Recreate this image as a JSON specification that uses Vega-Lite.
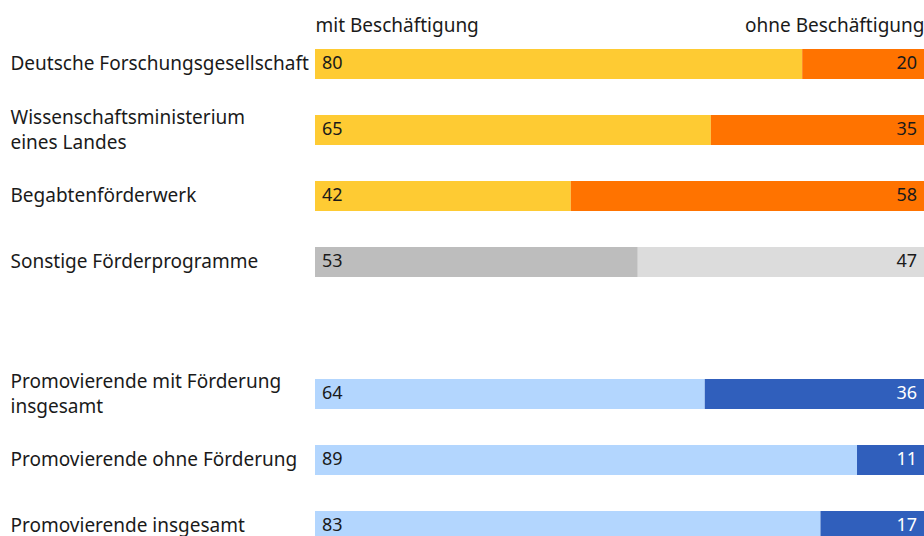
{
  "$schema": "https://vega.github.io/schema/vega-lite/v6.json",
  "width": 609,
  "height": 505,
  "autosize": {"type": "none"},
  "padding": {"left": 315, "top": 31, "right": 0, "bottom": 0},
  "background": "white",
  "config": {"view": {"stroke": null}, "font": "Noto Sans"},
  "data": {
    "values": [
      {"kategorie": "Deutsche Forschungsgesellschaft", "gruppe": "Förderer", "art": "mit", "reihe": "Förderer mit", "anteil": 80},
      {"kategorie": "Deutsche Forschungsgesellschaft", "gruppe": "Förderer", "art": "ohne", "reihe": "Förderer ohne", "anteil": 20},
      {"kategorie": "Wissenschaftsministerium eines Landes", "gruppe": "Förderer", "art": "mit", "reihe": "Förderer mit", "anteil": 65},
      {"kategorie": "Wissenschaftsministerium eines Landes", "gruppe": "Förderer", "art": "ohne", "reihe": "Förderer ohne", "anteil": 35},
      {"kategorie": "Begabtenförderwerk", "gruppe": "Förderer", "art": "mit", "reihe": "Förderer mit", "anteil": 42},
      {"kategorie": "Begabtenförderwerk", "gruppe": "Förderer", "art": "ohne", "reihe": "Förderer ohne", "anteil": 58},
      {"kategorie": "Sonstige Förderprogramme", "gruppe": "Sonstige", "art": "mit", "reihe": "Sonstige mit", "anteil": 53},
      {"kategorie": "Sonstige Förderprogramme", "gruppe": "Sonstige", "art": "ohne", "reihe": "Sonstige ohne", "anteil": 47},
      {"kategorie": "Promovierende mit Förderung insgesamt", "gruppe": "Gesamt", "art": "mit", "reihe": "Gesamt mit", "anteil": 64},
      {"kategorie": "Promovierende mit Förderung insgesamt", "gruppe": "Gesamt", "art": "ohne", "reihe": "Gesamt ohne", "anteil": 36},
      {"kategorie": "Promovierende ohne Förderung", "gruppe": "Gesamt", "art": "mit", "reihe": "Gesamt mit", "anteil": 89},
      {"kategorie": "Promovierende ohne Förderung", "gruppe": "Gesamt", "art": "ohne", "reihe": "Gesamt ohne", "anteil": 11},
      {"kategorie": "Promovierende insgesamt", "gruppe": "Gesamt", "art": "mit", "reihe": "Gesamt mit", "anteil": 83},
      {"kategorie": "Promovierende insgesamt", "gruppe": "Gesamt", "art": "ohne", "reihe": "Gesamt ohne", "anteil": 17}
    ]
  },
  "encoding": {
    "y": {
      "field": "kategorie",
      "type": "nominal",
      "scale": {
        "domain": ["Deutsche Forschungsgesellschaft", "Wissenschaftsministerium eines Landes", "Begabtenförderwerk", "Sonstige Förderprogramme", " ", "Promovierende mit Förderung insgesamt", "Promovierende ohne Förderung", "Promovierende insgesamt"],
        "range": [0, 528],
        "paddingInner": 0.545,
        "paddingOuter": 0.2725
      },
      "axis": {
        "title": null,
        "domain": false,
        "ticks": false,
        "labelAlign": "left",
        "labelBaseline": "middle",
        "labelPadding": 305,
        "labelFontSize": 19,
        "labelLimit": 400,
        "labelLineHeight": 25,
        "labelColor": "#1a1a1a",
        "labelOffset": {"condition": {"test": "datum.value == 'Wissenschaftsministerium eines Landes' || datum.value == 'Promovierende mit Förderung insgesamt'", "value": -12}, "value": 0},
        "labelExpr": "datum.label == 'Wissenschaftsministerium eines Landes' ? ['Wissenschaftsministerium', 'eines Landes'] : datum.label == 'Promovierende mit Förderung insgesamt' ? ['Promovierende mit Förderung', 'insgesamt'] : datum.label"
      }
    }
  },
  "layer": [
    {
      "mark": {"type": "bar"},
      "encoding": {
        "x": {
          "field": "anteil",
          "type": "quantitative",
          "stack": "zero",
          "scale": {"domain": [0, 100], "nice": false},
          "axis": {
            "orient": "top",
            "title": null,
            "values": [0, 100],
            "domain": false,
            "ticks": false,
            "grid": false,
            "labelFlush": true,
            "labelFontSize": 19,
            "labelColor": "#1a1a1a",
            "labelBaseline": "alphabetic",
            "labelPadding": 0,
            "labelExpr": "datum.value == 0 ? 'mit Beschäftigung' : 'ohne Beschäftigung'"
          }
        },
        "color": {
          "field": "reihe",
          "type": "nominal",
          "scale": {
            "domain": ["Förderer mit", "Förderer ohne", "Sonstige mit", "Sonstige ohne", "Gesamt mit", "Gesamt ohne"],
            "range": ["#FECB33", "#FF7300", "#BDBDBD", "#DCDCDC", "#B3D6FE", "#305FBC"]
          },
          "legend": null
        },
        "order": {"field": "art", "sort": "ascending"}
      }
    },
    {
      "transform": [{"filter": "datum.art == 'mit'"}],
      "mark": {"type": "text", "align": "left", "baseline": "middle", "dx": 7, "fontSize": 18, "color": "#1a1a1a"},
      "encoding": {
        "x": {"datum": 0, "type": "quantitative"},
        "text": {"field": "anteil", "type": "quantitative"}
      }
    },
    {
      "transform": [{"filter": "datum.art == 'ohne'"}],
      "mark": {"type": "text", "align": "right", "baseline": "middle", "dx": -7, "fontSize": 18},
      "encoding": {
        "x": {"datum": 100, "type": "quantitative"},
        "text": {"field": "anteil", "type": "quantitative"},
        "color": {"condition": {"test": "datum.gruppe == 'Gesamt'", "value": "white"}, "value": "#1a1a1a"}
      }
    }
  ]
}
